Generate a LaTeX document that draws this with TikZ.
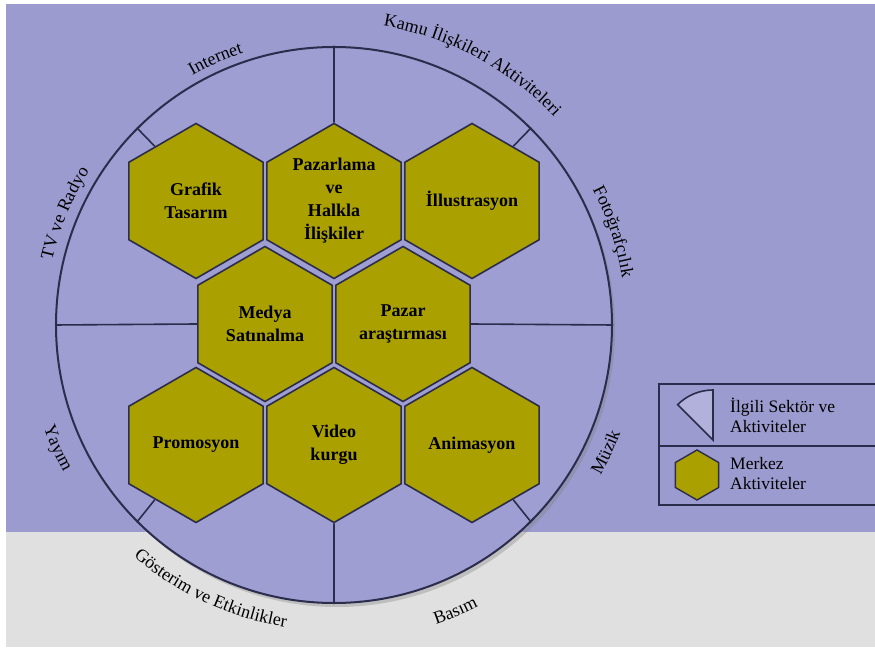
\documentclass[tikz,border=0pt]{standalone}
\usepackage{fontspec}
\setmainfont{Liberation Serif}
\usetikzlibrary{shapes.geometric,shadows,decorations.text,calc}

\definecolor{bgpurple}{RGB}{155,155,207}
\definecolor{bggray}{RGB}{224,224,224}
\definecolor{ringfill}{RGB}{158,158,210}
\definecolor{hexfill}{RGB}{170,161,0}
\definecolor{navy}{RGB}{44,44,76}

\newcommand{\lblfont}{\fontsize{18}{20}\selectfont}

\begin{document}
\begin{tikzpicture}[x=1pt, y=1pt,
    hexa/.style={regular polygon, regular polygon sides=6, shape border rotate=30,
      minimum size=155pt, inner sep=0pt, draw=navy, line width=1.6pt, fill=hexfill,
      align=center, font=\fontsize{18}{23}\selectfont\bfseries},
    divider/.style={draw=navy, line width=1.6pt},
    arclabel/.style={decorate, decoration={text along path, text align=center,
      text={|\lblfont|#1}}},
    legtext/.style={anchor=west, align=left, inner sep=0pt,
      font=\fontsize{17.5}{20}\selectfont}]
    % background
    \useasboundingbox (0,0) rectangle (875,648);
    \fill[white] (0,0) rectangle (875,648);
    \fill[bgpurple] (6,116) rectangle (875,644);
    \fill[bggray] (6,1) rectangle (875,116);

    % sector ring
    \node[circle, minimum size=556pt, inner sep=0pt, draw=navy, line width=2pt,
      fill=ringfill, drop shadow={shadow xshift=3pt, shadow yshift=-4pt, opacity=.35}]
      (ring) at (334,323) {};

    % central activities
    \node[hexa] (gt) at (196,447) {Grafik\\Tasarım};
    \node[hexa] (ph) at (334,447) {Pazarlama\\ve\\Halkla\\İlişkiler};
    \node[hexa] (il) at (472,447) {İllustrasyon};
    \node[hexa] (ms) at (265,324) {Medya\\Satınalma};
    \node[hexa] (pa) at (403,324) {Pazar\\araştırması};
    \node[hexa] (pr) at (196,203) {Promosyon};
    \node[hexa] (vk) at (334,203) {Video\\kurgu};
    \node[hexa] (an) at (472,203) {Animasyon};

    % sector borders
    \draw[divider] (ring.90) -- (ph.90);
    \draw[divider] (ring.135) -- (gt.127);
    \draw[divider] (ring.180) -- (ms.180);
    \draw[divider] (ring.225) -- (pr.233);
    \draw[divider] (vk.270) -- (ring.270);
    \draw[divider] (ring.315) -- (an.307);
    \draw[divider] (pa.0) -- (ring.0);
    \draw[divider] (ring.45) -- (il.53);

    % sector names
    \path[arclabel={Internet}] ($(ring.center)+(139:287)$)
      arc[start angle=139, end angle=89, radius=287];
    \path[arclabel={Kamu İlişkileri Aktiviteleri}] ($(ring.center)+(97:303)$)
      arc[start angle=97, end angle=27, radius=303];
    \path[arclabel={Fotoğrafçılık}] ($(ring.center)+(45:292)$)
      arc[start angle=45, end angle=-8, radius=292];
    \path[arclabel={Müzik}] ($(ring.center)+(-50:306)$)
      arc[start angle=-50, end angle=0, radius=306];
    \path[arclabel={Basım}] ($(ring.center)+(-92:316)$)
      arc[start angle=-92, end angle=-42, radius=316];
    \path[arclabel={Gösterim ve Etkinlikler}] ($(ring.center)+(-152:306)$)
      arc[start angle=-152, end angle=-78, radius=306];
    \path[arclabel={Yayım}] ($(ring.center)+(180:308)$)
      arc[start angle=180, end angle=228, radius=308];
    \path[arclabel={TV ve Radyo}] ($(ring.center)+(185:289)$)
      arc[start angle=185, end angle=130, radius=289];

    % legend
    \draw[navy, line width=1.6pt] (875,264) -| (659,143) -- (875,143);
    \draw[navy, line width=1.6pt] (659,202) -- (875,202);
    \draw[navy, line width=1.6pt, fill=ringfill!80!white] (713,208) -- ++(0,50)
      arc[start angle=90, end angle=135, radius=50] -- cycle;
    \node[hexa, minimum size=50pt, line width=1.4pt] (lghex) at (697,173) {};
    \node[legtext] (lg1) at (730,233) {İlgili Sektör ve\\Aktiviteler};
    \node[legtext] (lg2) at (730,174) {Merkez\\Aktiviteler};
\end{tikzpicture}
\end{document}
